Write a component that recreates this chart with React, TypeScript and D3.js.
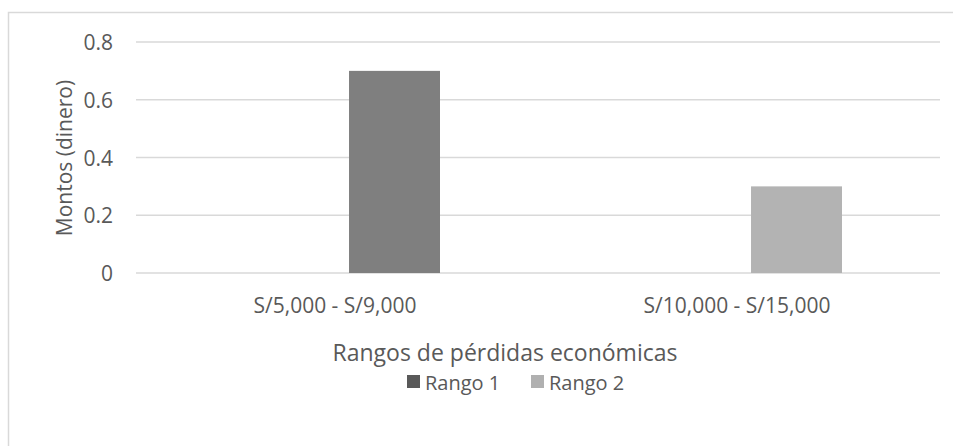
import React from "react";
import * as d3 from "d3";

const categories = ["S/5,000 - S/9,000", "S/10,000 - S/15,000"];
const seriesNames = ["Rango 1", "Rango 2"];
const values = [0.7, 0.3];
const barColors = ["#7f7f7f", "#b3b3b3"];
const legendColors = ["#595959", "#b0b0b0"];
const yTicks = [0, 0.2, 0.4, 0.6, 0.8];
const slots = ["vacío", "valor"];

const W = 953;
const H = 446;
const FONT = "'Open Sans', sans-serif";

export default function App() {
  const plotLeft = 136;
  const plotRight = 940;
  const plotTop = 42;
  const plotBottom = 273;

  const x = d3.scaleBand<string>().domain(categories).range([plotLeft, plotRight]).paddingInner(0).paddingOuter(0);
  const inner = d3
    .scaleBand<string>()
    .domain(slots)
    .range([x.bandwidth() / 2 - 103, x.bandwidth() / 2 + 103])
    .paddingInner(0.209)
    .paddingOuter(0);
  const y = d3.scaleLinear().domain([0, 0.8]).range([plotBottom, plotTop]);

  return (
    <svg width={W} height={H} style={{ position: "absolute", left: 0, top: 0 }} fontFamily={FONT}>
      <rect x={0} y={0} width={W} height={H} fill="#fff" />
      <rect x={8.5} y={12.5} width={W + 10} height={H + 10} fill="none" stroke="#d9d9d9" strokeWidth={1.5} />
      {yTicks.map((t) => (
        <g key={t}>
          <line x1={plotLeft} x2={plotRight} y1={y(t)} y2={y(t)} stroke="#d9d9d9" strokeWidth={1.5} />
          <text x={113} y={y(t)} textAnchor="end" dominantBaseline="central" fontSize={21} fill="#595959">
            {d3.format("")(t)}
          </text>
        </g>
      ))}
      {categories.map((c, i) => (
        <g key={c}>
          <rect
            x={(x(c) as number) + (inner("valor") as number)}
            y={y(values[i])}
            width={inner.bandwidth()}
            height={y(0) - y(values[i])}
            fill={barColors[i]}
          />
          <text
            x={(x(c) as number) + x.bandwidth() / 2 - 2}
            y={305}
            textAnchor="middle"
            dominantBaseline="central"
            fontSize={21}
            fill="#595959"
          >
            {c}
          </text>
        </g>
      ))}
      <text x={505} y={352} textAnchor="middle" dominantBaseline="central" fontSize={23} fill="#595959">
        Rangos de pérdidas económicas
      </text>
      <text
        transform={`translate(64,158) rotate(-90)`}
        textAnchor="middle"
        dominantBaseline="central"
        fontSize={21}
        fill="#595959"
      >
        Montos (dinero)
      </text>
      {seriesNames.map((s, i) => {
        const lx = [407, 531][i];
        return (
          <g key={s}>
            <rect x={lx} y={375} width={13} height={13} fill={legendColors[i]} />
            <text x={lx + 18} y={382} dominantBaseline="central" fontSize={20} fill="#595959">
              {s}
            </text>
          </g>
        );
      })}
    </svg>
  );
}
